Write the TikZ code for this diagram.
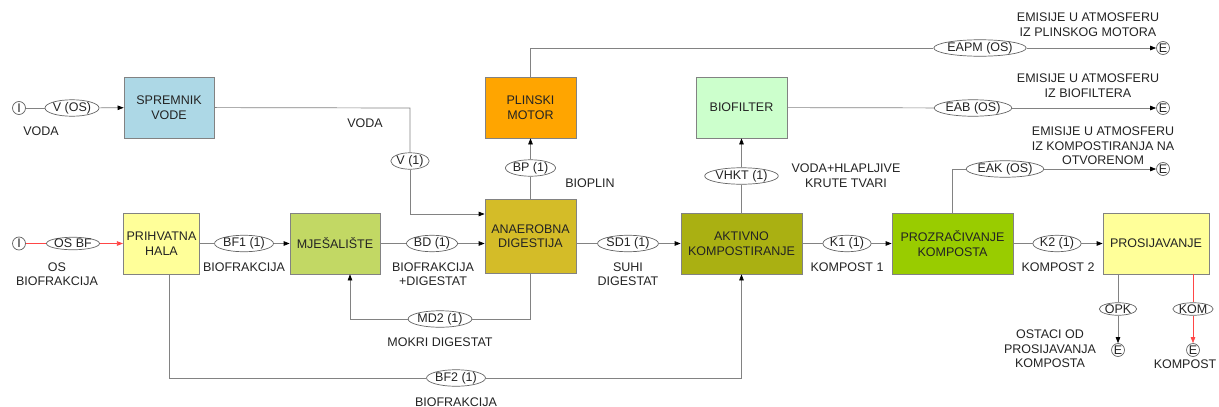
\documentclass[tikz,border=0pt]{standalone}
\usepackage{fontspec}
\setmainfont{Liberation Sans}
\usepackage{xcolor}
\usetikzlibrary{arrows.meta,positioning,shapes.geometric}

\definecolor{lineg}{RGB}{130,130,130}
\definecolor{elg}{RGB}{100,100,100}
\definecolor{textc}{RGB}{35,35,35}
\definecolor{redl}{RGB}{255,70,70}
\definecolor{vodec}{RGB}{173,216,230}
\definecolor{halac}{RGB}{255,255,153}
\definecolor{mjesc}{RGB}{194,216,100}
\definecolor{anaec}{RGB}{212,188,40}
\definecolor{motorc}{RGB}{255,165,0}
\definecolor{filtc}{RGB}{204,255,204}
\definecolor{aktc}{RGB}{170,176,18}
\definecolor{prozc}{RGB}{153,204,0}

\begin{document}
\begin{tikzpicture}[
    x=1pt, y=-1pt,
    font=\fontsize{12.5}{14.5}\selectfont,
    line width=0.7pt,
    box/.style={rectangle, draw=lineg, minimum height=61pt, align=center, text=textc},
    flow/.style={ellipse, draw=elg, fill=white, inner sep=0pt, text=textc},
    term/.style={circle, draw=elg, fill=white, inner sep=0pt, minimum size=13pt, text=textc},
    lbl/.style={align=center, text=textc},
    line/.style={draw=lineg},
    arrow/.style={draw=lineg, -{Triangle[length=6pt,width=4.5pt,color=black]}},
    redarrow/.style={draw=redl, -{Triangle[length=6pt,width=4.5pt]}}
]
\useasboundingbox (0,0) rectangle (1219,407);

% procesne jedinice
\node[box, fill=vodec, minimum width=90pt] (spremnik) at (169,107.5) {SPREMNIK\\VODE};
\node[box, fill=halac, minimum width=75pt] (hala) at (161.5,243.5) {PRIHVATNA\\HALA};
\node[box, fill=mjesc, minimum width=90pt] (mjes) at (335,243.5) {MJEŠALIŠTE};
\node[box, fill=anaec, minimum width=91pt, minimum height=74pt] (anaer) at (530.5,236) {ANAEROBNA\\DIGESTIJA};
\node[box, fill=motorc, minimum width=91pt] (motor) at (530.5,107.5) {PLINSKI\\MOTOR};
\node[box, fill=filtc, minimum width=91pt] (filter) at (741.5,107.5) {BIOFILTER};
\node[box, fill=aktc, minimum width=121pt] (aktiv) at (741.5,243.5) {AKTIVNO\\KOMPOSTIRANJE};
\node[box, fill=prozc, minimum width=121pt] (prozr) at (952.5,243.5) {PROZRAČIVANJE\\KOMPOSTA};
\node[box, fill=halac, minimum width=106pt] (prosij) at (1156,243.5) {PROSIJAVANJE};

% ulazi i izlazi
\node[term] (in1) at (19,108) {I};
\node[term] (in2) at (19,243.5) {I};
\node[term] (e1) at (1163,48) {E};
\node[term] (e2) at (1163,108) {E};
\node[term] (e3) at (1163,169) {E};
\node[term] (e4) at (1118,350) {E};
\node[term] (e5) at (1193,350) {E};

% tokovi
\node[flow] (vos) at (72,108) {V (OS)};
\node[flow] (osbf) at (73,243.5) {OS BF};
\node[flow] (bf1) at (244,243.5) {BF1 (1)};
\node[flow] (bd) at (432,243.5) {BD (1)};
\node[flow] (v1) at (410,161) {V (1)};
\node[flow] (md2) at (440,319) {MD2 (1)};
\node[flow] (bp) at (530.5,168) {BP (1)};
\node[flow] (eapm) at (980,48) {EAPM (OS)};
\node[flow] (sd1) at (628,243.5) {SD1 (1)};
\node[flow] (vhkt) at (741.5,176) {VHKT (1)};
\node[flow] (eab) at (973,108) {EAB (OS)};
\node[flow] (k1) at (847,243.5) {K1 (1)};
\node[flow] (eak) at (1005,169) {EAK (OS)};
\node[flow] (k2) at (1057,243.5) {K2 (1)};
\node[flow] (opk) at (1118,309) {OPK};
\node[flow] (kom) at (1193,309) {KOM};
\node[flow] (bf2) at (456,378) {BF2 (1)};

% opisi
\node[lbl] (lvoda) at (41,131) {VODA};
\node[lbl] (losbf) at (57,274) {OS\\BIOFRAKCIJA};
\node[lbl] (lbf1) at (244,267) {BIOFRAKCIJA};
\node[lbl] (lbd) at (433,274) {BIOFRAKCIJA\\+DIGESTAT};
\node[lbl] (lmd2) at (440,342) {MOKRI DIGESTAT};
\node[lbl] (lv1) at (365,123) {VODA};
\node[lbl] (lbp) at (590,183) {BIOPLIN};
\node[lbl] (lsd1) at (628,274) {SUHI\\DIGESTAT};
\node[lbl] (lvhkt) at (846,175.5) {VODA+HLAPLJIVE\\KRUTE TVARI};
\node[lbl] (lk1) at (847,267) {KOMPOST 1};
\node[lbl] (lk2) at (1058,267) {KOMPOST 2};
\node[lbl] (leapm) at (1088,24.5) {EMISIJE U ATMOSFERU\\IZ PLINSKOG MOTORA};
\node[lbl] (leab) at (1088,85.5) {EMISIJE U ATMOSFERU\\IZ BIOFILTERA};
\node[lbl] (leak) at (1103,146) {EMISIJE U ATMOSFERU\\IZ KOMPOSTIRANJA NA\\OTVORENOM};
\node[lbl] (lopk) at (1050,349) {OSTACI OD\\PROSIJAVANJA\\KOMPOSTA};
\node[lbl] (lkom) at (1185,364) {KOMPOST};
\node[lbl] (lbf2) at (456,402) {BIOFRAKCIJA};

% pomocne tocke
\coordinate (c1) at (410,108);
\coordinate (c2) at (410,214);
\coordinate (c3) at (530,319);
\coordinate (c4) at (350,319);
\coordinate (c5) at (530.5,48);
\coordinate (c6) at (952,169);
\coordinate (c7) at (169,378);
\coordinate (c8) at (741.5,378);

% veze
\draw[line] (in1) -- (vos);
\draw[arrow] (vos) -- (spremnik);
\draw[draw=redl] (in2) -- (osbf);
\draw[redarrow] (osbf) -- (hala);
\draw[line] (hala) -- (bf1);
\draw[arrow] (bf1) -- (mjes);
\draw[line] (mjes) -- (bd);
\draw[arrow] (bd) -- (anaer.west |- bd);
\draw[line] (spremnik) -- (c1) -- (v1);
\draw[arrow] (v1) -- (c2) -- (anaer.west |- c2);
\draw[line] (anaer.south -| c3) -- (c3) -- (md2);
\draw[arrow] (md2) -- (c4) -- (mjes.south -| c4);
\draw[line] (anaer) -- (bp);
\draw[arrow] (bp) -- (motor);
\draw[line] (motor) -- (c5) -- (eapm);
\draw[arrow] (eapm) -- (e1);
\draw[line] (anaer.east |- sd1) -- (sd1);
\draw[arrow] (sd1) -- (aktiv);
\draw[line] (aktiv) -- (vhkt);
\draw[arrow] (vhkt) -- (filter);
\draw[line] (filter) -- (eab);
\draw[arrow] (eab) -- (e2);
\draw[line] (aktiv) -- (k1);
\draw[arrow] (k1) -- (prozr);
\draw[line] (prozr.north -| c6) -- (c6) -- (eak);
\draw[arrow] (eak) -- (e3);
\draw[line] (prozr) -- (k2);
\draw[arrow] (k2) -- (prosij);
\draw[line] (prosij.south -| opk) -- (opk);
\draw[arrow] (opk) -- (e4);
\draw[draw=redl] (prosij.south -| kom) -- (kom);
\draw[redarrow] (kom) -- (e5);
\draw[line] (hala.south -| c7) -- (c7) -- (bf2);
\draw[arrow] (bf2) -- (c8) -- (aktiv);
\end{tikzpicture}
\end{document}
